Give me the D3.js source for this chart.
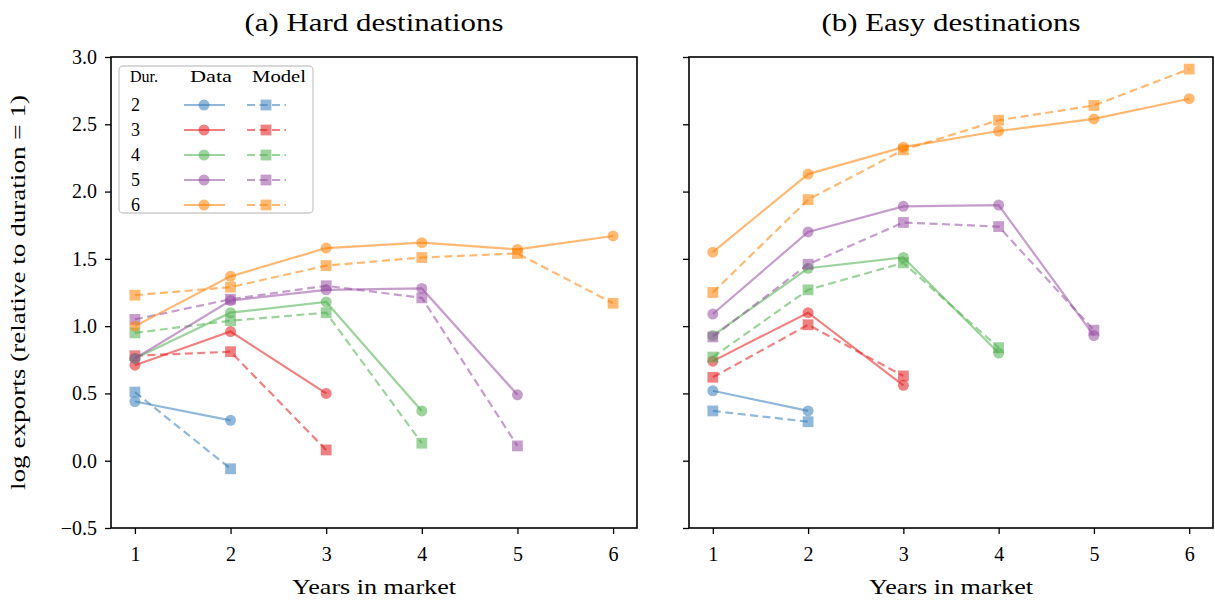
<!DOCTYPE html>
<html>
<head>
<meta charset="utf-8">
<script src="https://cdn.jsdelivr.net/npm/d3@7"></script>
<style>
  body { margin: 0; background: #fff; }
  svg { font-family: "Liberation Serif", "DejaVu Serif", serif; }
</style>
</head>
<body>
<svg width="1215" height="603"></svg>
<script>
// durations and their colours (Set1-ish, drawn with alpha like the original)
const durations = [2, 3, 4, 5, 6];
const colors = ['#377eb8', '#e41a1c', '#4daf4a', '#984ea3', '#ff7f00'];
const xTicks = [1, 2, 3, 4, 5, 6];
const yTicks = [-0.5, 0, 0.5, 1, 1.5, 2, 2.5, 3];

// one array per duration, value at years 1..n
const hardData = [
  [0.44, 0.30],
  [0.71, 0.96, 0.50],
  [0.76, 1.10, 1.18, 0.37],
  [0.76, 1.19, 1.27, 1.28, 0.49],
  [1.00, 1.37, 1.58, 1.62, 1.57, 1.67]
];
const hardModel = [
  [0.51, -0.06],
  [0.78, 0.81, 0.08],
  [0.95, 1.04, 1.10, 0.13],
  [1.05, 1.20, 1.30, 1.21, 0.11],
  [1.23, 1.29, 1.45, 1.51, 1.54, 1.17]
];
const easyData = [
  [0.52, 0.37],
  [0.74, 1.10, 0.56],
  [0.93, 1.43, 1.51, 0.80],
  [1.09, 1.70, 1.89, 1.90, 0.93],
  [1.55, 2.13, 2.33, 2.45, 2.54, 2.69]
];
const easyModel = [
  [0.37, 0.29],
  [0.62, 1.01, 0.63],
  [0.77, 1.27, 1.47, 0.84],
  [0.92, 1.46, 1.77, 1.74, 0.97],
  [1.25, 1.94, 2.31, 2.53, 2.64, 2.91]
];

const svg = d3.select('svg');
const alpha = 0.55;
const plotTop = 57, plotBottom = 528;
const y = d3.scaleLinear().domain([-0.5, 3]).range([plotBottom, plotTop]);

const panels = [
  {title: '(a) Hard destinations', left: 111, right: 637, data: hardData, model: hardModel, yLabels: true},
  {title: '(b) Easy destinations', left: 689, right: 1213, data: easyData, model: easyModel, yLabels: false}
];

// latex text is wider than Times, so stretch it to the same width
function label(sel, txt, size, len) {
  return sel.append('text').attr('font-size', size)
    .attr('textLength', len).attr('lengthAdjust', 'spacingAndGlyphs').text(txt);
}

panels.forEach(p => {
  const x = d3.scaleLinear().domain([0.75, 6.25]).range([p.left, p.right]);
  const g = svg.append('g');

  // axes
  const xAxis = g.append('g').attr('transform', `translate(0,${plotBottom})`)
    .call(d3.axisBottom(x).tickValues(xTicks).tickSize(6).tickPadding(13).tickFormat(d3.format('d')));
  const yAxis = g.append('g').attr('transform', `translate(${p.left},0)`)
    .call(d3.axisLeft(y).tickValues(yTicks).tickSize(6).tickPadding(8)
      .tickFormat(d => p.yLabels ? (d < 0 ? '\u2212' + d3.format('.1f')(-d) : d3.format('.1f')(d)) : ''));
  [xAxis, yAxis].forEach(a => {
    a.select('.domain').remove();
    a.selectAll('line').attr('stroke', '#000').attr('stroke-width', 1.3);
    a.selectAll('text').attr('font-size', 20).attr('fill', '#000')
      .attr('font-family', '"Liberation Serif", serif');
  });

  // lines and markers, per duration
  const line = d3.line().x((d, i) => x(i + 1)).y(d => y(d));
  durations.forEach((dur, k) => {
    const col = colors[k];
    // data: solid with circles
    g.append('path').datum(p.data[k]).attr('d', line)
      .attr('fill', 'none').attr('stroke', col).attr('stroke-width', 2.2).attr('stroke-opacity', alpha);
    g.selectAll(null).data(p.data[k]).enter().append('circle')
      .attr('cx', (d, i) => x(i + 1)).attr('cy', d => y(d)).attr('r', 5.5)
      .attr('fill', col).attr('fill-opacity', alpha);
    // model: dashed with squares
    g.append('path').datum(p.model[k]).attr('d', line)
      .attr('fill', 'none').attr('stroke', col).attr('stroke-width', 2.2).attr('stroke-opacity', alpha)
      .attr('stroke-dasharray', '8,4.5');
    g.selectAll(null).data(p.model[k]).enter().append('rect')
      .attr('x', (d, i) => x(i + 1) - 5.4).attr('y', d => y(d) - 5.4)
      .attr('width', 10.8).attr('height', 10.8)
      .attr('fill', col).attr('fill-opacity', alpha);
  });

  // frame
  g.append('rect').attr('x', p.left).attr('y', plotTop)
    .attr('width', p.right - p.left).attr('height', plotBottom - plotTop)
    .attr('fill', 'none').attr('stroke', '#000').attr('stroke-width', 1.6);

  // titles and axis label
  label(svg, p.title, 25, 259)
    .attr('x', (p.left + p.right) / 2 - 129.5).attr('y', 31);
  label(svg, 'Years in market', 21, 164)
    .attr('x', (p.left + p.right) / 2 - 82).attr('y', 594);
});

label(svg, 'log exports (relative to duration = 1)', 21, 395)
  .attr('transform', `translate(25,${(plotTop + plotBottom) / 2 + 197.5}) rotate(-90)`);

// legend in panel (a)
const leg = svg.append('g').attr('transform', 'translate(119,66)');
leg.append('rect').attr('width', 194).attr('height', 147).attr('rx', 4)
  .attr('fill', '#fff').attr('fill-opacity', 0.8).attr('stroke', '#ccc').attr('stroke-width', 1.3);
[['Dur.', 11, 28], ['Data', 71, 42], ['Model', 133, 54]].forEach(([t, lx, len]) => {
  label(leg, t, 16, len).attr('x', lx).attr('y', 16);
});
durations.forEach((dur, k) => {
  const ry = 39 + k * 25;
  const col = colors[k];
  leg.append('text').attr('x', 12).attr('y', ry + 6).attr('font-size', 18).text(dur);
  leg.append('line').attr('x1', 65).attr('x2', 106).attr('y1', ry).attr('y2', ry)
    .attr('stroke', col).attr('stroke-width', 2.2).attr('stroke-opacity', alpha);
  leg.append('circle').attr('cx', 85).attr('cy', ry).attr('r', 5.5)
    .attr('fill', col).attr('fill-opacity', alpha);
  leg.append('line').attr('x1', 128).attr('x2', 167).attr('y1', ry).attr('y2', ry)
    .attr('stroke', col).attr('stroke-width', 2.2).attr('stroke-opacity', alpha)
    .attr('stroke-dasharray', '8,4.5');
  leg.append('rect').attr('x', 147 - 5.4).attr('y', ry - 5.4).attr('width', 10.8).attr('height', 10.8)
    .attr('fill', col).attr('fill-opacity', alpha);
});
</script>
</body>
</html>
